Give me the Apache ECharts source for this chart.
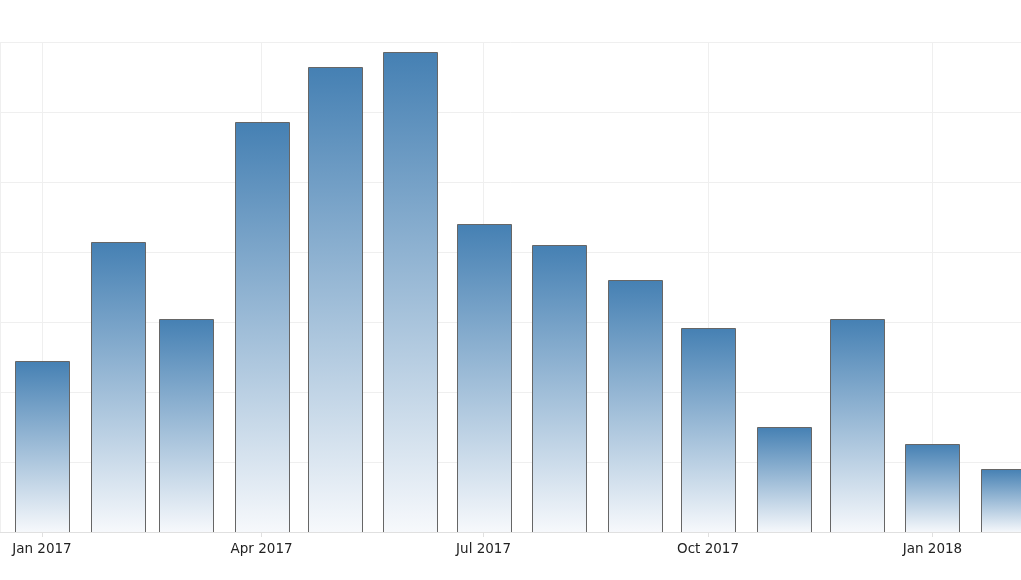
<!DOCTYPE html>
<html>
<head>
<meta charset="utf-8">
<style>
html,body{margin:0;padding:0;background:#fff;}
#chart{width:1021px;height:580px;}
</style>
<script src="https://cdn.jsdelivr.net/npm/echarts@6/dist/echarts.min.js"></script>
</head>
<body>
<div id="chart"></div>
<script>
var months = ['2017-01-01','2017-02-01','2017-03-01','2017-04-01','2017-05-01','2017-06-01','2017-07-01','2017-08-01','2017-09-01','2017-10-01','2017-11-01','2017-12-01','2018-01-01','2018-02-01'];
var values = [2.44, 4.14, 3.04, 5.86, 6.64, 6.86, 4.40, 4.10, 3.60, 2.91, 1.50, 3.04, 1.26, 0.90];
var monthNames = ['Jan','Feb','Mar','Apr','May','Jun','Jul','Aug','Sep','Oct','Nov','Dec'];

var chart = echarts.init(document.getElementById('chart'), null, {renderer:'canvas'});
var DAY = 86400000;
var axisMin = new Date(2016, 11, 14, 19).getTime();
var axisMax = new Date(2018, 1, 6, 7).getTime();
var BAR_W = 54;

function parseMonth(s) {
  var p = s.split('-');
  return new Date(+p[0], +p[1] - 1, +p[2]).getTime();
}

chart.setOption({
  animation: false,
  backgroundColor: '#ffffff',
  grid: {left: 0, right: 0, top: 42, bottom: 48, containLabel: false},
  xAxis: {
    type: 'time',
    min: axisMin,
    max: axisMax,
    minInterval: 89 * DAY,
    maxInterval: 93 * DAY,
    splitNumber: 4,
    axisLine: {show: true, lineStyle: {color: '#e0e0e0', width: 1}},
    axisTick: {show: true, length: 5, lineStyle: {color: '#e0e0e0'}},
    splitLine: {show: true, lineStyle: {color: '#efefef', width: 1}},
    minorTick: {show: false},
    axisLabel: {
      color: '#222222',
      fontFamily: 'DejaVu Sans',
      fontSize: 13.5,
      margin: 10,
      hideOverlap: false,
      formatter: function (v) {
        var d = new Date(v);
        return monthNames[d.getMonth()] + ' ' + d.getFullYear();
      }
    }
  },
  yAxis: {
    type: 'value',
    min: 0,
    max: 7,
    interval: 1,
    axisLabel: {show: false},
    axisLine: {show: false},
    axisTick: {show: false},
    splitLine: {show: true, lineStyle: {color: '#efefef', width: 1}}
  },
  series: [{
    type: 'custom',
    clip: true,
    data: months.map(function (m, i) { return [parseMonth(m), values[i]]; }),
    encode: {x: 0, y: 1},
    renderItem: function (params, api) {
      var top = api.coord([api.value(0), api.value(1)]);
      var base = api.coord([api.value(0), 0]);
      return {
        type: 'rect',
        shape: {x: Math.round(top[0] - BAR_W / 2) + 0.5, y: Math.round(top[1]) + 0.5, width: BAR_W, height: Math.round(base[1]) - Math.round(top[1])},
        style: {
          fill: new echarts.graphic.LinearGradient(0, 0, 0, 1, [
            {offset: 0, color: '#4580b3'},
            {offset: 1, color: '#f7f9fc'}
          ]),
          stroke: '#666666',
          lineWidth: 1
        }
      };
    }
  }]
});
</script>
</body>
</html>
